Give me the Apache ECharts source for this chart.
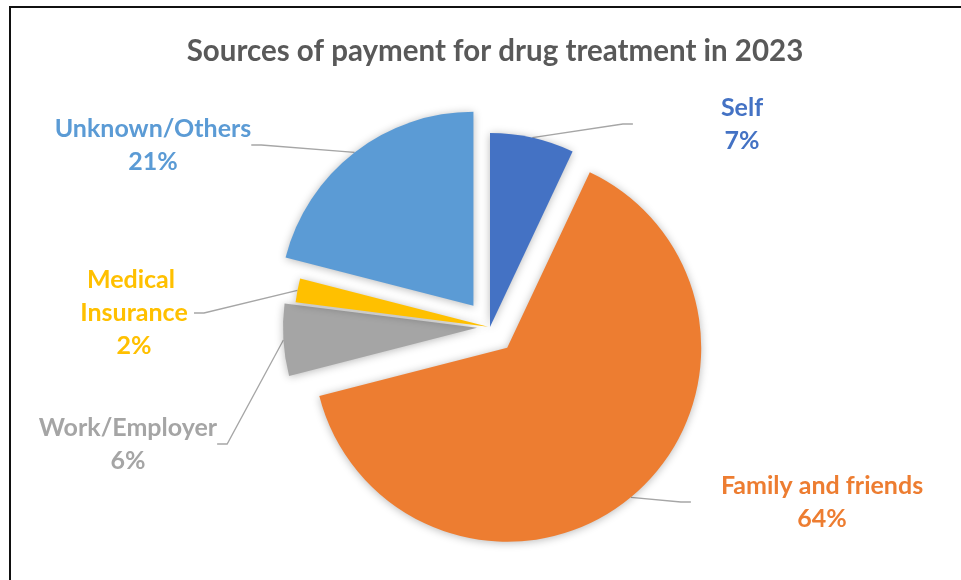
<!DOCTYPE html>
<html>
<head>
<meta charset="utf-8">
<script src="https://cdn.jsdelivr.net/npm/echarts@6/dist/echarts.min.js"></script>
<style>
  html, body { margin: 0; padding: 0; background: #fff; }
  #chart { width: 961px; height: 580px; }
</style>
</head>
<body>
<div id="chart"></div>
<script>
// Payment sources (percent of respondents)
const categories = ['Self', 'Family and friends', 'Work/Employer', 'Medical Insurance', 'Unknown/Others'];
const shares = [7, 64, 6, 2, 21];

// Slice colours, in the same order as the categories
const colors = ['#4472C4', '#ED7D31', '#A5A5A5', '#FFC000', '#5B9BD5'];
// How far each slice is pulled away from the centre (px)
const explode = [0, 27, 13, 2, 27];
// Centre of each label block
const labelPos = [[742, 124], [822, 502], [128, 444], [134, 313], [153, 145]];
// Extra horizontal room around each label box (the leader line stops at the box edge)
const labelPadX = [88, 30, 0, 0, 0];
// Wrap width for long names that break over two lines
const labelWrap = [null, null, null, 120, null];

const CX = 490, CY = 327, R = 194;
const FONT = 'Lato';

const total = shares.reduce((a, b) => a + b, 0);
let before = 0;

// One pie per slice so every slice can have its own explosion distance;
// each pie carries the full data so the library lays out the angles.
const series = categories.map((name, i) => {
  const mid = (before + shares[i] / 2) / total * 2 * Math.PI;
  before += shares[i];
  const cx = CX + explode[i] * Math.sin(mid);
  const cy = CY - explode[i] * Math.cos(mid);
  return {
    type: 'pie',
    silent: true,
    animation: false,
    startAngle: 90,
    clockwise: true,
    center: [cx, cy],
    radius: R,
    avoidLabelOverlap: false,
    z: 2 + i,
    labelLayout: function (p) {
      if (p.dataIndex !== i) return {};
      return { x: labelPos[i][0], y: labelPos[i][1], align: 'center', verticalAlign: 'middle' };
    },
    data: categories.map((n, j) => {
      const own = j === i;
      const label = own ? {
        show: true,
        position: 'outside',
        formatter: '{b}\n{d}%',
        color: colors[j],
        fontFamily: FONT,
        fontWeight: 'bold',
        fontSize: 25,
        lineHeight: 33,
        align: 'center',
        padding: [0, labelPadX[j]]
      } : { show: false };
      if (own && labelWrap[j]) {
        label.width = labelWrap[j];
        label.overflow = 'break';
      }
      return {
        name: n,
        value: shares[j],
        itemStyle: own
          ? { color: colors[j], shadowBlur: 9, shadowColor: 'rgba(0,0,0,0.28)', shadowOffsetY: 1 }
          : { color: 'rgba(0,0,0,0)' },
        label: label,
        labelLine: own
          ? { show: true, length: 20, length2: 10, lineStyle: { color: '#A6A6A6', width: 1.3 } }
          : { show: false }
      };
    })
  };
});

const chart = echarts.init(document.getElementById('chart'), null, { renderer: 'canvas' });
chart.setOption({
  backgroundColor: '#fff',
  animation: false,
  title: {
    text: 'Sources of payment for drug treatment in 2023',
    left: 490,
    top: 31,
    textAlign: 'center',
    textStyle: { fontFamily: FONT, fontWeight: 'bold', fontSize: 29.5, color: '#595959' }
  },
  graphic: [{
    type: 'rect',
    silent: true,
    z: -10,
    shape: { x: 10, y: 7, width: 1000, height: 700 },
    style: { fill: null, stroke: '#111', lineWidth: 2 }
  }],
  series: series
});
</script>
</body>
</html>
